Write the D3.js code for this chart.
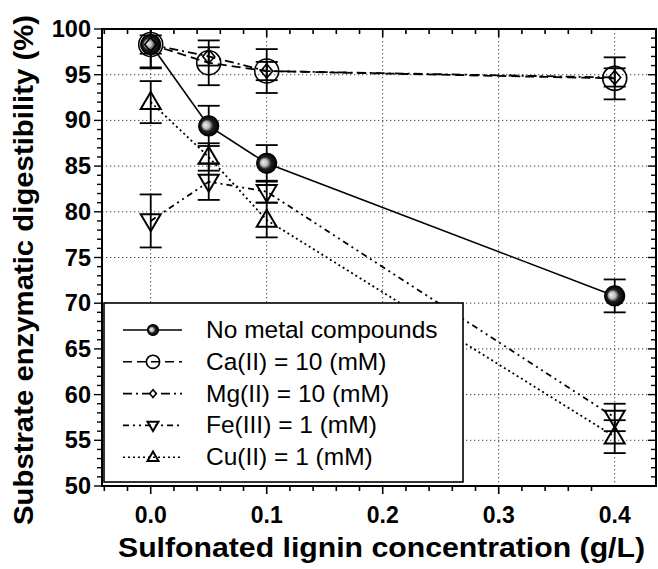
<!DOCTYPE html>
<html><head><meta charset="utf-8">
<script src="https://cdn.jsdelivr.net/npm/d3@7"></script>
<style>body{margin:0;background:#fff}svg{display:block}</style>
</head><body>
<script>
// ---- data ----
const conc = [0, 0.05, 0.1, 0.4];
const noMetal = [98.3, 89.4, 85.3, 70.8];
const noMetalErr = [2.6, 2.2, 2.0, 1.8];
const caVals = [98.3, 96.3, 95.4, 94.6];
const caErr = [2.5, 2.45, 2.4, 2.3];
const mgVals = [98.3, 97.0, 95.4, 94.7];
const mgErr = [1.0, 1.0, 1.0, 1.0];
const feVals = [79.0, 83.3, 82.2, 57.5];
const feErr = [2.9, 2.0, 1.2, 1.5];
const cuVals = [92.0, 86.0, 79.1, 55.4];
const cuErr = [2.3, 1.5, 1.9, 1.8];
const seriesNames = ["No metal compounds", "Ca(II) = 10 (mM)", "Mg(II) = 10 (mM)", "Fe(III) = 1 (mM)", "Cu(II) = 1 (mM)"];
const xTicks = [0, 0.1, 0.2, 0.3, 0.4];
const yTicks = [50, 55, 60, 65, 70, 75, 80, 85, 90, 95, 100];
const xTitle = "Sulfonated lignin concentration (g/L)";
const yTitle = "Substrate enzymatic digestibility (%)";

const W = 658, H = 569;
const L = 102, R = 656, T = 29, B = 486;
const FONT = "'Liberation Sans', Arial, Helvetica, sans-serif";

const x = d3.scaleLinear().domain([-0.042, 0.4356]).range([L, R]);
const y = d3.scaleLinear().domain([50, 100]).range([B, T]);

const svg = d3.select("body").append("svg").attr("width", W).attr("height", H)
  .style("font-family", FONT);

const defs = svg.append("defs");
const grad = defs.append("radialGradient").attr("id", "ball")
  .attr("cx", "0.5").attr("cy", "0.5").attr("r", "0.5").attr("fx", "0.3").attr("fy", "0.45");
grad.append("stop").attr("offset", "0%").attr("stop-color", "#f2f2f2");
grad.append("stop").attr("offset", "35%").attr("stop-color", "#bbb");
grad.append("stop").attr("offset", "60%").attr("stop-color", "#222");
grad.append("stop").attr("offset", "100%").attr("stop-color", "#000");
defs.append("clipPath").attr("id", "plotclip").append("rect")
  .attr("x", L).attr("y", T).attr("width", R - L).attr("height", B - T);

// ---- grid ----
const grid = svg.append("g").attr("stroke", "#444").attr("stroke-width", 1)
  .attr("stroke-dasharray", "1.3,2.7");
grid.selectAll(".gx").data(xTicks).join("line")
  .attr("x1", d => x(d)).attr("x2", d => x(d)).attr("y1", T).attr("y2", B);
grid.selectAll(".gy").data(yTicks.filter(d => d > 50 && d < 100)).join("line")
  .attr("y1", d => y(d)).attr("y2", d => y(d)).attr("x1", L).attr("x2", R);

// ---- series ----
const series = [
  {vals: noMetal, err: noMetalErr, dash: null, marker: "ball"},
  {vals: caVals, err: caErr, dash: "9,5", marker: "circle"},
  {vals: mgVals, err: mgErr, dash: "9,4,2,4", marker: "diamond"},
  {vals: feVals, err: feErr, dash: "6,4,2,4,2,4", marker: "down"},
  {vals: cuVals, err: cuErr, dash: "2,3", marker: "up"}
];

const plot = svg.append("g").attr("clip-path", "url(#plotclip)");
const line = d3.line().x(d => x(d[0])).y(d => y(d[1]));

function drawMarker(g, type, cx, cy, s) {
  if (type === "ball") {
    g.append("circle").attr("cx", cx).attr("cy", cy).attr("r", 10 * s)
      .attr("fill", "url(#ball)").attr("stroke", "#000").attr("stroke-width", 1.2);
  } else if (type === "circle") {
    g.append("circle").attr("cx", cx).attr("cy", cy).attr("r", 12 * s)
      .attr("fill", "none").attr("stroke", "#000").attr("stroke-width", 1.6);
  } else if (type === "diamond") {
    const r = 7 * s;
    g.append("path").attr("d", `M${cx},${cy - r}L${cx + r * 0.85},${cy}L${cx},${cy + r}L${cx - r * 0.85},${cy}Z`)
      .attr("fill", "none").attr("stroke", "#000").attr("stroke-width", 1.6);
  } else if (type === "up") {
    const w = 10 * s, h = 17 * s;
    g.append("path").attr("d", `M${cx},${cy - h * 0.6}L${cx + w},${cy + h * 0.4}L${cx - w},${cy + h * 0.4}Z`)
      .attr("fill", "none").attr("stroke", "#000").attr("stroke-width", 2).attr("stroke-linejoin", "miter");
  } else if (type === "down") {
    const w = 10 * s, h = 17 * s;
    g.append("path").attr("d", `M${cx},${cy + h * 0.6}L${cx + w},${cy - h * 0.4}L${cx - w},${cy - h * 0.4}Z`)
      .attr("fill", "none").attr("stroke", "#000").attr("stroke-width", 2).attr("stroke-linejoin", "miter");
  }
}

// lines first
series.slice().reverse().forEach(s => {
  const pts = conc.map((c, i) => [c, s.vals[i]]);
  plot.append("path").attr("d", line(pts)).attr("fill", "none").attr("stroke", "#000")
    .attr("stroke-width", s.dash ? 1.8 : 1.6).attr("stroke-dasharray", s.dash);
});
// error bars
series.forEach(s => {
  conc.forEach((c, i) => {
    const cx = x(c), y1 = y(s.vals[i] + s.err[i]), y2 = y(s.vals[i] - s.err[i]);
    const g = plot.append("g").attr("stroke", "#000").attr("stroke-width", 1.8);
    g.append("line").attr("x1", cx).attr("x2", cx).attr("y1", y1).attr("y2", y2);
    g.append("line").attr("x1", cx - 11).attr("x2", cx + 11).attr("y1", y1).attr("y2", y1);
    g.append("line").attr("x1", cx - 11).attr("x2", cx + 11).attr("y1", y2).attr("y2", y2);
  });
});
// markers (ball on top of ca/mg at 0)
[3, 4, 0, 1, 2].forEach(k => {
  const s = series[k];
  conc.forEach((c, i) => drawMarker(plot, s.marker, x(c), y(s.vals[i]), 1));
});

// ---- legend ----
const lg = svg.append("g");
lg.append("rect").attr("x", 104).attr("y", 303).attr("width", 359).attr("height", 179)
  .attr("fill", "#fff").attr("stroke", "#000").attr("stroke-width", 1.6);
seriesNames.forEach((name, k) => {
  const by = 338 + k * 31.8;
  const ly = by - 8;
  const s = series[k];
  lg.append("line").attr("x1", 123).attr("x2", 182).attr("y1", ly).attr("y2", ly)
    .attr("stroke", "#000").attr("stroke-width", 1.6).attr("stroke-dasharray", s.dash);
  drawMarker(lg, s.marker, 153, ly, 0.55);
  lg.append("text").attr("x", 206).attr("y", by).attr("font-size", 24.5).text(name);
});

// ---- axes ----
const axisG = svg.append("g").attr("stroke", "#000");
// frame
axisG.append("rect").attr("x", L).attr("y", T).attr("width", R - L).attr("height", B - T)
  .attr("fill", "none").attr("stroke-width", 2);
const xMinor = d3.range(0, 22).map(i => -0.04 + i * 0.02).filter(v => v > -0.042 && v < 0.4356);
const yMinor = d3.range(50, 101);
const isMajorX = v => Math.abs(v * 10 - Math.round(v * 10)) < 1e-6;
// bottom (outward) and top (inward)
xMinor.forEach(v => {
  const len = isMajorX(v) ? 8 : 5;
  axisG.append("line").attr("x1", x(v)).attr("x2", x(v)).attr("y1", B).attr("y2", B + len).attr("stroke-width", 1.6);
  axisG.append("line").attr("x1", x(v)).attr("x2", x(v)).attr("y1", T).attr("y2", T + len).attr("stroke-width", 1.6);
});
// left (outward) and right (inward)
yMinor.forEach(v => {
  const len = v % 5 === 0 ? 8 : 5;
  axisG.append("line").attr("y1", y(v)).attr("y2", y(v)).attr("x1", L - len).attr("x2", L).attr("stroke-width", 1.4);
  axisG.append("line").attr("y1", y(v)).attr("y2", y(v)).attr("x1", R - len).attr("x2", R).attr("stroke-width", 1.4);
});

// tick labels
svg.append("g").selectAll("text").data(xTicks).join("text")
  .attr("x", d => x(d)).attr("y", 523).attr("text-anchor", "middle")
  .attr("font-size", 23).attr("font-weight", "bold").text(d => d3.format(".1f")(d));
svg.append("g").selectAll("text").data(yTicks).join("text")
  .attr("x", 91).attr("y", d => y(d) + 8).attr("text-anchor", "end")
  .attr("font-size", 23.5).attr("font-weight", "bold").text(d => d);

// titles
svg.append("text").attr("x", 381.5).attr("y", 557).attr("text-anchor", "middle")
  .attr("font-size", 28.5).attr("font-weight", "bold")
  .attr("textLength", 527).attr("lengthAdjust", "spacingAndGlyphs").text(xTitle);
svg.append("text").attr("transform", "translate(33,270) rotate(-90)").attr("text-anchor", "middle")
  .attr("font-size", 28).attr("font-weight", "bold")
  .attr("textLength", 510).attr("lengthAdjust", "spacingAndGlyphs").text(yTitle);
</script>
</body></html>
